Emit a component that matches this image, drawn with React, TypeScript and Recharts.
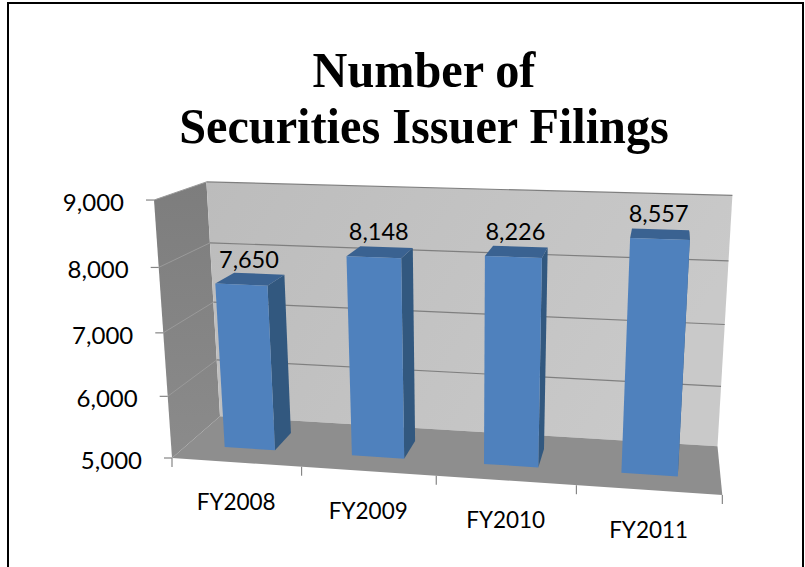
import React from 'react';
import { BarChart, Bar, XAxis, YAxis, CartesianGrid, LabelList, Customized } from 'recharts';

const categories = ['FY2008', 'FY2009', 'FY2010', 'FY2011'];
const filings = [7650, 8148, 8226, 8557];
const yTicks = [5000, 6000, 7000, 8000, 9000];
const titleLines = ['Number of', 'Securities Issuer Filings'];

const chartData = categories.map((name, i) => ({ name, value: filings[i] }));

const WIDTH = 805;
const HEIGHT = 567;
// flat plot rectangle recharts lays out, everything is projected from this
const PLOT_LEFT = 100;
const PLOT_TOP = 120;
const PLOT_W = 600;
const PLOT_H = 360;

const LABEL_FONT = 'Lato, "Open Sans", sans-serif';

// u along categories, v depth (0 front, 1 back), h height, all 0..1
const project = (u: number, v: number, h: number): [number, number] => {
  const w = 1 - 0.0762 * u + 0.1055 * v - 0.0577 * h;
  const x = 172 + 495.3 * u + 71.2 * v - 26.9 * h;
  const y = 458 - 0.69 * u + 2.11 * v - 269.5 * h;
  return [x / w, y / w];
};

const toU = (x: number) => (x - PLOT_LEFT) / PLOT_W;
const toH = (y: number) => (PLOT_TOP + PLOT_H - y) / PLOT_H;

const pts = (list: [number, number][]) => list.map((p) => `${p[0].toFixed(1)},${p[1].toFixed(1)}`).join(' ');

const Walls = () => (
  <g>
    <defs>
      <linearGradient id="backWall" x1="0" y1="0" x2="1" y2="0.3">
        <stop offset="0%" stopColor="#bcbcbc" />
        <stop offset="100%" stopColor="#c9c9c9" />
      </linearGradient>
      <linearGradient id="sideWall" x1="0" y1="0" x2="0" y2="1">
        <stop offset="0%" stopColor="#7d7d7d" />
        <stop offset="100%" stopColor="#8b8b8b" />
      </linearGradient>
    </defs>
    <polygon points={pts([project(0, 0, 0), project(0, 0, 1), project(0, 1, 1), project(0, 1, 0)])} fill="url(#sideWall)" />
    <polygon points={pts([project(0, 1, 0), project(0, 1, 1), project(1, 1, 1), project(1, 1, 0)])} fill="url(#backWall)" />
    <polygon points={pts([project(0, 0, 0), project(0, 1, 0), project(1, 1, 0), project(1, 0, 0)])} fill="#8e8e8e" />
    {/* tick marks on the category boundaries */}
    {[0, ...categories.map((_, i) => (i + 1) / categories.length)].map((u) => {
      const [x, y] = project(u, 0, 0);
      return <line key={u} x1={x} y1={y} x2={x} y2={y + 9} stroke="#868686" strokeWidth={1.2} />;
    })}
  </g>
);

const Title = () => (
  <g fontFamily='"Liberation Serif", serif' fontWeight="bold" fill="#000" textAnchor="middle" transform="translate(424,0) scale(0.965,1)">
    <text x={0} y={87} fontSize={50}>{titleLines[0]}</text>
    <text x={0} y={143} fontSize={50}>{titleLines[1]}</text>
  </g>
);

const GridLine = (props: any) => {
  const h = toH(props.y1);
  const a = project(0, 0, h);
  const b = project(0, 1, h);
  const c = project(1, 1, h);
  return (
    <g key={props.key}>
      {h > 0.01 && <line x1={a[0]} y1={a[1]} x2={b[0]} y2={b[1]} stroke="#9a9a9a" strokeWidth={1} />}
      {h > 0.01 && <line x1={b[0]} y1={b[1]} x2={c[0]} y2={c[1]} stroke="#7f7f7f" strokeWidth={1.2} />}
    </g>
  );
};

const YTick = (props: any) => {
  const h = toH(props.y);
  const [x, y] = project(0, 0, h);
  return (
    <g>
      <line x1={x - 8} y1={y} x2={x} y2={y} stroke="#868686" strokeWidth={1.2} />
      <text x={x - 30} y={y + 11} textAnchor="end" fontFamily={LABEL_FONT} fontSize={24} fill="#000">
        {Number(props.payload.value).toLocaleString('en-US')}
      </text>
    </g>
  );
};

const XTick = (props: any) => {
  const [x, y] = project(toU(props.x), 0, 0);
  return (
    <text x={x} y={y + 48} textAnchor="middle" fontFamily={LABEL_FONT} fontSize={22.5} fill="#000">
      {props.payload.value}
    </text>
  );
};

const V_FRONT = 0.3;
const V_BACK = 0.7;

const Bar3D = (props: any) => {
  const { x, y, width, height } = props;
  const u0 = toU(x);
  const u1 = toU(x + width);
  const top = toH(y);
  const base = toH(y + height);
  return (
    <g>
      <polygon
        points={pts([project(u1, V_FRONT, base), project(u1, V_FRONT, top), project(u1, V_BACK, top), project(u1, V_BACK, base)])}
        fill="#32587f"
      />
      <polygon
        points={pts([project(u0, V_FRONT, top), project(u0, V_BACK, top), project(u1, V_BACK, top), project(u1, V_FRONT, top)])}
        fill="#3a6291"
      />
      <polygon
        points={pts([project(u0, V_FRONT, base), project(u0, V_FRONT, top), project(u1, V_FRONT, top), project(u1, V_FRONT, base)])}
        fill="#4f81bd"
      />
    </g>
  );
};

const BarLabel = (props: any) => {
  const { x, y, width, value } = props;
  // labels sit over the middle of the bar's depth
  const px = project(toU(x + width / 2), 0.5, toH(y))[0];
  const py = project(toU(x + width / 2), V_FRONT, toH(y))[1];
  return (
    <text x={px - 1.5} y={py - 17} textAnchor="middle" fontFamily={LABEL_FONT} fontSize={23.5} fill="#000">
      {Number(value).toLocaleString('en-US')}
    </text>
  );
};

export default function App() {
  return (
    <div style={{ position: 'absolute', left: 0, top: 0, width: WIDTH, height: HEIGHT, background: '#fff' }}>
      <div
        style={{
          position: 'absolute',
          left: 7,
          top: 2,
          width: 797,
          height: 565,
          boxSizing: 'border-box',
          borderLeft: '2px solid #000',
          borderTop: '2px solid #000',
          borderRight: '2px solid #000',
        }}
      />
      <div style={{ position: 'absolute', left: 0, top: 0 }}>
        <BarChart
          width={WIDTH}
          height={HEIGHT}
          data={chartData}
          barCategoryGap="30%"
          margin={{ top: PLOT_TOP, left: 0, right: WIDTH - PLOT_LEFT - PLOT_W, bottom: HEIGHT - PLOT_TOP - PLOT_H - 30 }}
        >
          <Customized component={Walls} />
          <Customized component={Title} />
          <CartesianGrid vertical={false} horizontal={GridLine} zIndex={50} />
          <XAxis dataKey="name" height={30} interval={0} axisLine={false} tickLine={false} tick={XTick} />
          <YAxis width={PLOT_LEFT} domain={[5000, 9000]} ticks={yTicks} axisLine={false} tickLine={false} tick={YTick} />
          <Bar dataKey="value" shape={Bar3D} isAnimationActive={false}>
            <LabelList dataKey="value" content={BarLabel} />
          </Bar>
        </BarChart>
      </div>
    </div>
  );
}
